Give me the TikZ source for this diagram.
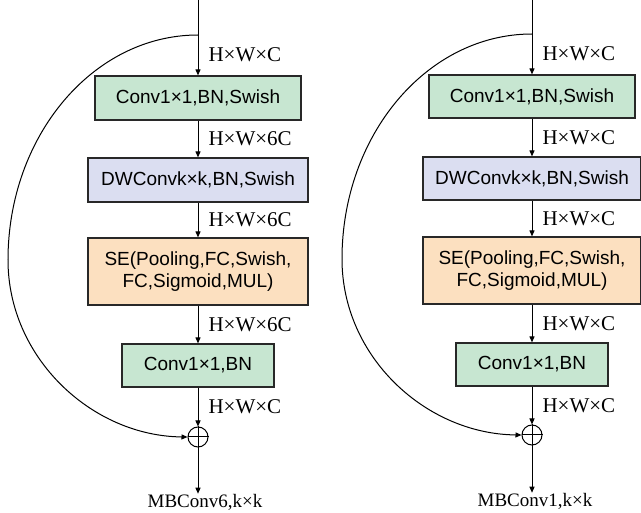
\documentclass[tikz,border=0pt]{standalone}
\usepackage{fontspec}
\setmainfont{Liberation Serif}
\newfontfamily\boxfont{Liberation Sans}
\usetikzlibrary{arrows.meta, positioning}
\definecolor{convcolor}{RGB}{199,230,209}
\definecolor{dwcolor}{RGB}{219,222,241}
\definecolor{secolor}{RGB}{252,224,192}
\definecolor{edgecolor}{RGB}{40,40,40}

\begin{document}
\begin{tikzpicture}[x=1pt, y=-1pt,
    box/.style={rectangle, draw=edgecolor, line width=1.2pt, inner sep=0pt, align=center, font=\boxfont\fontsize{19}{22}\selectfont},
    dim/.style={anchor=west, inner sep=0pt, xshift=10pt, font=\fontsize{21}{23}\selectfont},
    arrow/.style={-{Triangle[length=6pt, width=5pt]}, line width=1pt},
    add/.style={circle, draw, line width=1pt, minimum size=20pt, inner sep=0pt},
    blockname/.style={inner sep=0pt, font=\fontsize{19}{21}\selectfont}
]
\useasboundingbox (0,0) rectangle (641,513);

% MBConv6
\coordinate (inL) at (198,0);
\coordinate (brL) at (198,35);
\coordinate (swL) at (8,260);
\node[box, fill=convcolor, minimum width=206pt, minimum height=44pt] (c1L) at (198,98) {Conv1×1,BN,Swish};
\node[box, fill=dwcolor, minimum width=220pt, minimum height=44pt] (dwL) at (198,180) {DWConvk×k,BN,Swish};
\node[box, fill=secolor, minimum width=220pt, minimum height=67pt] (seL) at (198,271.5) {SE(Pooling,FC,Swish,\\FC,Sigmoid,MUL)};
\node[box, fill=convcolor, minimum width=152pt, minimum height=43pt] (c2L) at (198,365.5) {Conv1×1,BN};
\node[add] (addL) at (198,437) {};
\node[blockname] (outL) at (205,502) {MBConv6,k×k};

\draw[line width=1pt] (inL) -- (brL);
\draw[arrow] (brL) -- node[dim] {H×W×C} (c1L);
\draw[arrow] (c1L) -- node[dim] {H×W×6C} (dwL);
\draw[arrow] (dwL) -- node[dim] {H×W×6C} (seL);
\draw[arrow] (seL) -- node[dim] {H×W×6C} (c2L);
\draw[arrow] (c2L) -- node[dim] {H×W×C} (addL);
\draw[line width=1pt] (addL.north) -- (addL.south) (addL.west) -- (addL.east);
\draw[arrow] (addL) -- (addL |- outL.north);
\draw[arrow] (brL) .. controls (93,35) and (8,136) .. (swL)
    .. controls (8,358) and (92,436) .. (addL.west);

% MBConv1
\coordinate (inR) at (532,0);
\coordinate (brR) at (532,34);
\coordinate (swR) at (342,259);
\node[box, fill=convcolor, minimum width=206pt, minimum height=43pt] (c1R) at (532,96.5) {Conv1×1,BN,Swish};
\node[box, fill=dwcolor, minimum width=218pt, minimum height=43pt] (dwR) at (532,178.5) {DWConvk×k,BN,Swish};
\node[box, fill=secolor, minimum width=218pt, minimum height=67pt] (seR) at (532,270.5) {SE(Pooling,FC,Swish,\\FC,Sigmoid,MUL)};
\node[box, fill=convcolor, minimum width=152pt, minimum height=43pt] (c2R) at (532,364.5) {Conv1×1,BN};
\node[add] (addR) at (532,435) {};
\node[blockname] (outR) at (535,501) {MBConv1,k×k};

\draw[line width=1pt] (inR) -- (brR);
\draw[arrow] (brR) -- node[dim] {H×W×C} (c1R);
\draw[arrow] (c1R) -- node[dim] {H×W×C} (dwR);
\draw[arrow] (dwR) -- node[dim] {H×W×C} (seR);
\draw[arrow] (seR) -- node[dim] {H×W×C} (c2R);
\draw[arrow] (c2R) -- node[dim] {H×W×C} (addR);
\draw[line width=1pt] (addR.north) -- (addR.south) (addR.west) -- (addR.east);
\draw[arrow] (addR) -- (addR |- outR.north);
\draw[arrow] (brR) .. controls (427,34) and (342,135) .. (swR)
    .. controls (342,357) and (426,434) .. (addR.west);
\end{tikzpicture}
\end{document}
